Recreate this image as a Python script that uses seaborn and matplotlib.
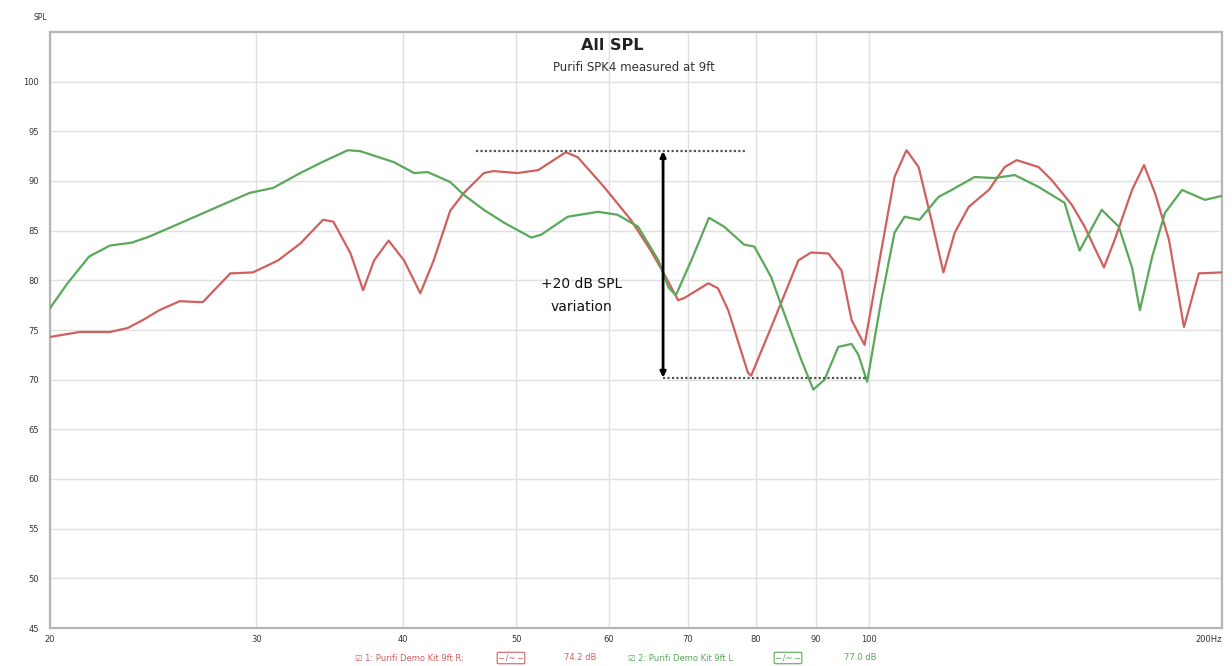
import matplotlib
matplotlib.use("Agg")
import matplotlib.pyplot as plt
import seaborn as sns
import pandas as pd

# Frequenzgang (Hz / dB)
freq_r = [20.0, 21.2, 22.5, 23.3, 24.0, 24.8, 25.8, 27.0, 28.5, 29.8, 31.3, 32.7,
          34.2, 34.9, 36.1, 37.0, 37.8, 38.9, 40.1, 41.4, 42.5, 43.9, 45.1, 46.9,
          47.8, 50.1, 52.2, 55.1, 56.4, 59.4, 62.6, 65.1, 66.8, 68.7, 69.5, 72.9,
          74.3, 75.8, 78.8, 79.3, 82.5, 87.0, 89.2, 92.3, 94.7, 96.6, 99.1, 102.4,
          105.1, 107.6, 110.2, 113.0, 115.7, 118.3, 121.6, 126.5, 130.5, 133.6,
          139.5, 143.1, 148.9, 152.7, 158.6, 162.0, 167.6, 171.6, 175.3, 180.2,
          185.6, 191.1, 200.0]
spl_r = [74.3, 74.8, 74.8, 75.2, 76.0, 77.0, 77.9, 77.8, 80.7, 80.8, 82.0, 83.7,
         86.1, 85.9, 82.7, 79.0, 82.0, 84.0, 82.0, 78.7, 82.0, 87.0, 88.8, 90.8,
         91.0, 90.8, 91.1, 92.9, 92.4, 89.4, 86.1, 83.0, 80.7, 78.0, 78.2, 79.7,
         79.2, 77.0, 70.7, 70.4, 75.3, 82.0, 82.8, 82.7, 81.0, 76.0, 73.5, 83.0,
         90.4, 93.1, 91.4, 86.1, 80.8, 84.8, 87.4, 89.1, 91.4, 92.1,
         91.4, 90.1, 87.6, 85.4, 81.3, 84.1, 89.1, 91.6, 88.8, 84.1,
         75.3, 80.7, 80.8]

freq_l = [20.0, 20.7, 21.6, 22.5, 23.5, 24.3, 26.0, 27.8, 29.6, 31.0, 32.7, 34.0,
          35.9, 36.8, 39.3, 40.9, 42.0, 43.9, 45.1, 46.9, 48.8, 51.5, 52.5, 55.3,
          58.7, 61.0, 63.5, 66.1, 67.4, 68.4, 70.5, 73.0, 75.2, 78.2, 79.8, 82.5,
          84.6, 87.5, 89.6, 91.6, 94.1, 96.6, 97.9, 99.6, 102.4, 105.1, 107.2,
          110.4, 114.6, 117.6, 123.0, 127.9, 133.1, 139.5, 146.8, 148.9, 151.2,
          157.9, 163.3, 167.6, 170.2, 174.3, 178.8, 184.9, 193.4, 200.0]
spl_l = [77.2, 79.7, 82.4, 83.5, 83.8, 84.4, 85.9, 87.4, 88.8, 89.3, 90.8, 91.8,
         93.1, 93.0, 91.9, 90.8, 90.9, 89.9, 88.6, 87.1, 85.8, 84.3, 84.6, 86.4,
         86.9, 86.6, 85.4, 82.0, 79.3, 78.5, 82.0, 86.3, 85.4, 83.6, 83.4, 80.3,
         76.7, 72.0, 69.0, 70.0, 73.3, 73.6, 72.5, 69.8, 78.0, 84.8, 86.4,
         86.1, 88.4, 89.1, 90.4, 90.3, 90.6, 89.4, 87.8, 85.4, 83.0,
         87.1, 85.4, 81.3, 77.0, 82.3, 86.8, 89.1, 88.1, 88.5]

x_ticks = [20, 30, 40, 50, 60, 70, 80, 90, 100, 200]
x_labels = ["20", "30", "40", "50", "60", "70", "80", "90", "100", "200Hz"]
y_ticks = list(range(45, 101, 5))

red = "#d0605e"
green = "#5aa85a"

sns.set_style("white")
plt.rcParams["font.family"] = ["DejaVu Sans"]

fig = plt.figure(figsize=(12.32, 6.66), dpi=100)
ax = fig.add_axes([50 / 1232, 1 - 628 / 666, 1172 / 1232, 596 / 666])

df_r = pd.DataFrame({"Hz": freq_r, "SPL": spl_r})
df_l = pd.DataFrame({"Hz": freq_l, "SPL": spl_l})
sns.lineplot(data=df_r, x="Hz", y="SPL", color=red, lw=1.6, ax=ax, zorder=3)
sns.lineplot(data=df_l, x="Hz", y="SPL", color=green, lw=1.6, ax=ax, zorder=3)

ax.set_xscale("log")
ax.set_xlim(20, 200)
ax.set_ylim(45, 105)
ax.set_xticks(x_ticks)
ax.set_xticklabels(x_labels)
ax.minorticks_off()
ax.get_xticklabels()[-1].set_horizontalalignment("right")
ax.set_yticks(y_ticks)
ax.set_yticklabels([str(v) for v in y_ticks])
ax.tick_params(axis="both", length=0, labelsize=6, colors="#333333")
ax.tick_params(axis="y", pad=8)
ax.tick_params(axis="x", pad=5)
ax.set_xlabel("")
ax.set_ylabel("")
ax.grid(True, color="#e0e0e0", lw=1.0)
for s in ax.spines.values():
    s.set_color("#b5b5b5")
    s.set_linewidth(1.6)

fig.text(40 / 1232, 1 - 17 / 666, "SPL", fontsize=5.5, color="#333333",
         ha="center", va="center")

# Titel
ax.text(0.4795, 0.978, "All SPL", transform=ax.transAxes, ha="center",
        va="center", fontsize=11.5, fontweight="bold", color="#222222")
ax.text(0.498, 0.94, "Purifi SPK4 measured at 9ft", transform=ax.transAxes,
        ha="center", va="center", fontsize=8.5, color="#333333")

# Markierung der Variation
ax.plot([46.2, 78.5], [93.0, 93.0], ls=(0, (1, 1)), color="#555555", lw=1.6, zorder=4)
ax.plot([66.7, 99.5], [70.2, 70.2], ls=(0, (1, 1)), color="#555555", lw=1.6, zorder=4)
ax.annotate("", xy=(66.7, 93.0), xytext=(66.7, 70.2),
            arrowprops=dict(arrowstyle="<|-|>", color="black", lw=2,
                            mutation_scale=8, shrinkA=0, shrinkB=0), zorder=5)
ax.text(56.8, 79.6, "+20 dB SPL", ha="center", va="center", fontsize=10, color="#111111")
ax.text(56.8, 77.3, "variation", ha="center", va="center", fontsize=10, color="#111111")

# Legende unten
yl = 1 - 658 / 666
fig.text(355 / 1232, yl, "\u2611 1: Purifi Demo Kit 9ft R:", color=red, fontsize=6,
         ha="left", va="center")
fig.text(511 / 1232, yl, "\u2500 /~ \u2500", color=red, fontsize=6, ha="center", va="center",
         bbox=dict(boxstyle="round,pad=0.15", fc="white", ec=red, lw=0.8))
fig.text(580 / 1232, yl, "74.2 dB", color=red, fontsize=6, ha="center", va="center")
fig.text(628 / 1232, yl, "\u2611 2: Purifi Demo Kit 9ft L", color=green, fontsize=6,
         ha="left", va="center")
fig.text(788 / 1232, yl, "\u2500 /~ \u2500", color=green, fontsize=6, ha="center", va="center",
         bbox=dict(boxstyle="round,pad=0.15", fc="white", ec=green, lw=0.8))
fig.text(860 / 1232, yl, "77.0 dB", color=green, fontsize=6, ha="center", va="center")

fig.savefig("out.png", dpi=100, facecolor="white")
